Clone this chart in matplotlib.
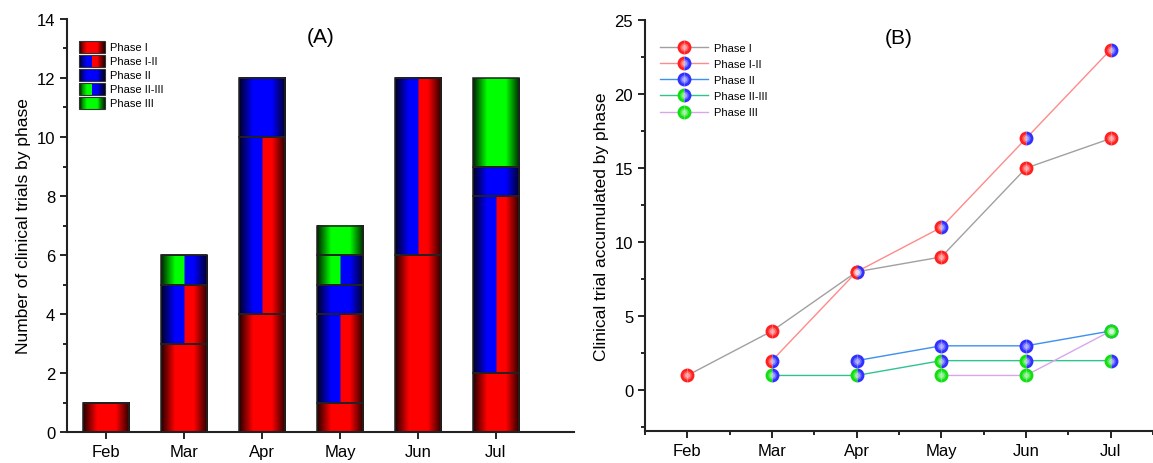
import numpy as np
import matplotlib
matplotlib.use("Agg")
import matplotlib.pyplot as plt
from matplotlib.patches import Rectangle
from matplotlib.legend_handler import HandlerBase
from matplotlib.ticker import MultipleLocator

plt.rcParams['font.family'] = ['Liberation Sans', 'DejaVu Sans']

# Monthly number of trials by phase (panel A)
months = ['Feb', 'Mar', 'Apr', 'May', 'Jun', 'Jul']
phase_labels = ['Phase I', 'Phase I-II', 'Phase II', 'Phase II-III', 'Phase III']
phase_i = [1, 3, 4, 1, 6, 2]
phase_i_ii = [0, 2, 6, 3, 6, 6]
phase_ii = [0, 0, 2, 1, 0, 1]
phase_ii_iii = [0, 1, 0, 1, 0, 0]
phase_iii = [0, 0, 0, 1, 0, 3]

# Accumulated trials by phase (panel B), nan before the first trial
acc_i = [1, 4, 8, 9, 15, 17]
acc_i_ii = [np.nan, 2, 8, 11, 17, 23]
acc_ii = [np.nan, np.nan, 2, 3, 3, 4]
acc_ii_iii = [np.nan, 1, 1, 2, 2, 2]
acc_iii = [np.nan, np.nan, np.nan, 1, 1, 4]

RED = np.array([1.0, 0.0, 0.0])
BLUE = np.array([0.0, 0.0, 1.0])
GREEN = np.array([0.0, 1.0, 0.0])
# (left colour, right colour) of each phase
phase_colors = [(RED, RED), (BLUE, RED), (BLUE, BLUE), (GREEN, BLUE), (GREEN, GREEN)]


def shade(t):
    # cylinder-like shading: dark at the edges, bright in the middle
    d = np.minimum(t, 1 - t)
    return np.clip(0.12 + 0.88 * d / 0.3, 0, 1)


def gradient_row(left, right, n=120):
    t = (np.arange(n) + 0.5) / n
    cols = np.where((t < 0.5)[:, None], left[None, :], right[None, :])
    return cols * shade(t)[:, None]


class GradientHandler(HandlerBase):
    def __init__(self, left, right):
        super().__init__()
        self.left = left
        self.right = right

    def create_artists(self, legend, orig_handle, xdescent, ydescent,
                       width, height, fontsize, trans):
        n = 30
        row = gradient_row(self.left, self.right, n)
        artists = []
        for k in range(n):
            artists.append(Rectangle((-xdescent + width * k / n, -ydescent - 1),
                                     width / n + 0.3, height + 2, facecolor=row[k],
                                     edgecolor='none', transform=trans))
        artists.append(Rectangle((-xdescent, -ydescent - 1), width, height + 2,
                                 facecolor='none', edgecolor='#333333', lw=0.8,
                                 transform=trans))
        return artists


fig = plt.figure(figsize=(11.53, 4.64), dpi=100)
ax1 = fig.add_axes([0.0581, 0.0668, 0.4397, 0.8901])
ax2 = fig.add_axes([0.5594, 0.069, 0.4406, 0.8857])

# ---- Panel A: stacked bars with shaded fill ----
x = np.arange(len(months))
series = [phase_i, phase_i_ii, phase_ii, phase_ii_iii, phase_iii]
bottom = np.zeros(len(months))
for vals, (lc, rc) in zip(series, phase_colors):
    vals = np.array(vals, dtype=float)
    bars = ax1.bar(x, vals, 0.6, bottom=bottom, facecolor='none',
                   edgecolor='#222222', linewidth=1.1, zorder=3)
    img = gradient_row(lc, rc)[None, :, :]
    for b, v in zip(bars, vals):
        if v <= 0:
            continue
        x0, y0 = b.get_x(), b.get_y()
        ax1.imshow(img, extent=(x0, x0 + b.get_width(), y0, y0 + b.get_height()),
                   aspect='auto', interpolation='bilinear', zorder=2)
    bottom += vals

ax1.set_xlim(-0.5, 6.0)
ax1.set_ylim(0, 14)
ax1.set_xticks(x)
ax1.set_xticklabels(months)
ax1.yaxis.set_major_locator(MultipleLocator(2))
ax1.yaxis.set_minor_locator(MultipleLocator(1))
ax1.set_ylabel('Number of clinical trials by phase', fontsize=12.5)
ax1.text(0.5, 0.98, '(A)', transform=ax1.transAxes, ha='center', va='top', fontsize=15)

handles = [Rectangle((0, 0), 1, 1) for _ in phase_labels]
ax1.legend(handles, phase_labels, loc='upper left', bbox_to_anchor=(0.015, 0.955),
           frameon=False, fontsize=8, handlelength=2.3, handleheight=0.9,
           labelspacing=0.32, handletextpad=0.5, borderaxespad=0,
           handler_map={h: GradientHandler(lc, rc) for h, (lc, rc) in zip(handles, phase_colors)})

# ---- Panel B: accumulated trials ----
acc_series = [acc_i, acc_i_ii, acc_ii, acc_ii_iii, acc_iii]
line_colors = ['#a0a0a0', '#ff8a8a', '#3d8ff0', '#2fc48e', '#d9a6ee']
marker_faces = [('#ff2020', '#ff2020'), ('#ff2020', '#3030ff'), ('#3030ff', '#3030ff'),
                ('#10e010', '#3030ff'), ('#10e010', '#10e010')]
legend_handles = []
for vals, lcol, (fl, fr) in zip(acc_series, line_colors, marker_faces):
    ln, = ax2.plot(x, vals, '-', color=lcol, lw=1.0, marker='o', markersize=10,
                   fillstyle='left', markerfacecolor=fl, markerfacecoloralt=fr,
                   markeredgewidth=0, zorder=3)
    # soft glossy highlight in the middle of each marker
    glow, = ax2.plot(x, vals, 'o', linestyle='none', markersize=6,
                     markerfacecolor='white', markeredgewidth=0, alpha=0.3, zorder=4)
    hl, = ax2.plot(x, vals, 'o', linestyle='none', markersize=3.5,
                   markerfacecolor='white', markeredgewidth=0, alpha=0.4, zorder=5)
    legend_handles.append((ln, glow, hl))

ax2.set_xlim(-0.5, 5.5)
ax2.set_ylim(-2.75, 25)
ax2.set_xticks(x)
ax2.set_xticklabels(months)
ax2.xaxis.set_minor_locator(MultipleLocator(0.5))
ax2.yaxis.set_major_locator(MultipleLocator(5))
ax2.yaxis.set_minor_locator(MultipleLocator(2.5))
ax2.set_ylabel('Clinical trial accumulated by phase', fontsize=12.5)
ax2.text(0.5, 0.98, '(B)', transform=ax2.transAxes, ha='center', va='top', fontsize=15)
ax2.legend(legend_handles, phase_labels, loc='upper left', bbox_to_anchor=(0.02, 0.955),
           frameon=False, fontsize=8, handlelength=4.4, labelspacing=0.55,
           handletextpad=0.5, borderaxespad=0)

for ax in (ax1, ax2):
    for s in ('top', 'right'):
        ax.spines[s].set_visible(False)
    for s in ('left', 'bottom'):
        ax.spines[s].set_linewidth(1.5)
        ax.spines[s].set_color('#222222')
    ax.tick_params(which='major', direction='out', length=5, width=1.2, labelsize=12)
    ax.tick_params(which='minor', direction='out', length=3, width=1.2)
ax1.tick_params(axis='x', which='minor', length=0)

fig.savefig('out.png', dpi=100)
